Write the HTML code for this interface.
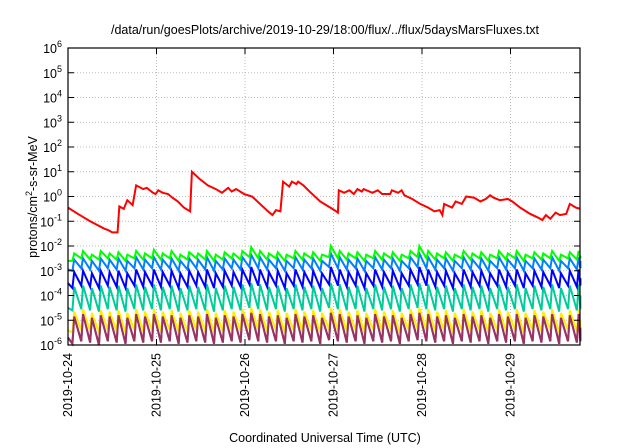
<!DOCTYPE html>
<html><head><meta charset="utf-8"><style>
body{margin:0;background:#fff}
svg{display:block;font-family:"Liberation Sans",sans-serif}
</style></head><body>
<svg id="c" width="640" height="448" viewBox="0 0 640 448">
<text x="325" y="34" font-size="12.5" text-anchor="middle">/data/run/goesPlots/archive/2019-10-29/18:00/flux/../flux/5daysMarsFluxes.txt</text>
<text transform="translate(37,197) rotate(-90)" font-size="12.5" text-anchor="middle">protons/cm<tspan dy="-5" font-size="9">2</tspan><tspan dy="5">-s-sr-MeV</tspan></text>
<text x="325" y="442" font-size="12.5" text-anchor="middle">Coordinated Universal Time (UTC)</text>
<g id="grid"></g><g id="series"></g><g id="axes"></g>
</svg>
<script>
const dayLabels=["2019-10-24","2019-10-25","2019-10-26","2019-10-27","2019-10-28","2019-10-29"];
const decadeExps=[-6,-5,-4,-3,-2,-1,0,1,2,3,4,5,6];
const redT=[0,.11,.25,.41,.45,.50,.56,.58,.63,.67,.73,.77,.85,.89,.96,.99,1.02,1.07,1.13,1.18,1.24,1.31,1.38,1.40,1.49,1.58,1.67,1.74,1.81,1.85,1.90,1.99,2.08,2.17,2.26,2.31,2.35,2.40,2.43,2.50,2.53,2.58,2.60,2.66,2.73,2.85,3.01,3.05,3.06,3.12,3.18,3.23,3.27,3.32,3.34,3.44,3.50,3.55,3.64,3.66,3.73,3.77,3.80,3.89,3.98,4.07,4.14,4.20,4.23,4.25,4.34,4.38,4.45,4.50,4.59,4.66,4.72,4.77,4.81,4.88,4.97,5.02,5.11,5.22,5.31,5.36,5.40,5.45,5.51,5.56,5.63,5.67,5.74,5.79];
const redLog=[-.45,-.7,-1.0,-1.3,-1.35,-1.45,-1.45,-.4,-.5,-.15,-.35,.45,.3,.35,.15,.1,.25,.15,.1,-.05,-.2,-.45,-.6,1.0,.7,.45,.3,.15,.35,.2,.3,.1,0,-.3,-.6,-.75,-.55,-.6,.6,.4,.6,.5,.6,.45,.2,-.2,-.55,-.65,.25,.15,.25,.1,.3,.2,.3,.15,.25,.1,.1,.25,.15,.25,.05,-.1,-.3,-.45,-.6,-.55,-.75,-.3,-.45,-.2,-.3,0,-.05,-.2,-.1,.05,-.05,-.15,-.1,-.2,-.45,-.7,-.85,-.95,-.75,-.9,-.65,-.75,-.7,-.3,-.45,-.5];
const toothT=[0,.05,.15,.25,.35,.45,.55,.65,.75,.85,.95,1.05,1.15,1.25,1.35,1.45,1.55,1.65,1.75,1.85,1.95,2.05,2.15,2.25,2.35,2.45,2.55,2.65,2.75,2.85,2.95,3.05,3.15,3.25,3.35,3.45,3.55,3.65,3.75,3.85,3.95,4.05,4.15,4.25,4.35,4.45,4.55,4.65,4.75,4.85,4.95,5.05,5.15,5.25,5.35,5.45,5.55,5.65,5.75,5.79];
const greenPeak=[-2.6,-2.3,-2.2,-2.35,-2.2,-2.3,-2.25,-2.35,-2.2,-2.3,-2.15,-2.3,-2.2,-2.35,-2.25,-2.3,-2.2,-2.35,-2.25,-2.3,-2.2,-2.05,-2.2,-2.3,-2.25,-2.35,-2.2,-2.3,-2.25,-2.35,-2.0,-2.2,-2.3,-2.25,-2.35,-2.2,-2.3,-2.25,-2.35,-2.2,-2.0,-2.2,-2.3,-2.25,-2.35,-2.2,-2.3,-2.25,-2.35,-2.2,-2.3,-2.2,-2.35,-2.25,-2.3,-2.2,-2.35,-2.25,-2.2,-2.4];
const greenLow=[-2.6,-2.6,-2.5,-2.55,-2.55,-2.5,-2.55,-2.6,-2.5,-2.55,-2.5,-2.55,-2.5,-2.6,-2.55,-2.5,-2.55,-2.6,-2.55,-2.5,-2.55,-2.45,-2.5,-2.55,-2.5,-2.6,-2.5,-2.55,-2.5,-2.6,-2.45,-2.5,-2.55,-2.5,-2.6,-2.5,-2.55,-2.5,-2.6,-2.5,-2.45,-2.5,-2.55,-2.5,-2.6,-2.5,-2.55,-2.5,-2.6,-2.5,-2.55,-2.5,-2.6,-2.5,-2.55,-2.5,-2.6,-2.5,-2.55,-2.5];
const lbluePeak=[-2.95,-2.55,-2.5,-2.6,-2.5,-2.55,-2.5,-2.6,-2.45,-2.55,-2.45,-2.55,-2.5,-2.6,-2.5,-2.55,-2.45,-2.6,-2.5,-2.55,-2.45,-2.35,-2.45,-2.55,-2.5,-2.6,-2.45,-2.55,-2.5,-2.6,-2.3,-2.45,-2.55,-2.5,-2.6,-2.45,-2.55,-2.5,-2.6,-2.45,-2.3,-2.45,-2.55,-2.5,-2.6,-2.45,-2.55,-2.5,-2.6,-2.45,-2.55,-2.45,-2.6,-2.5,-2.55,-2.45,-2.6,-2.5,-2.45,-2.6];
const lblueLow=[-2.95,-3.0,-2.9,-2.95,-3.0,-2.9,-2.95,-3.0,-2.9,-2.95,-2.9,-2.95,-2.9,-3.0,-2.95,-2.9,-2.95,-3.0,-2.95,-2.9,-2.95,-2.85,-2.9,-2.95,-2.9,-3.0,-2.9,-2.95,-2.9,-3.0,-2.85,-2.9,-2.95,-2.9,-3.0,-2.9,-2.95,-2.9,-3.0,-2.9,-2.85,-2.9,-2.95,-2.9,-3.0,-2.9,-2.95,-2.9,-3.0,-2.9,-2.95,-2.9,-3.0,-2.9,-2.95,-2.9,-3.0,-2.9,-2.95,-2.9];
const bluePeak=[-3.5,-3.05,-3.0,-3.1,-3.0,-3.05,-3.0,-3.1,-2.95,-3.05,-2.95,-3.05,-3.0,-3.1,-3.0,-3.05,-2.95,-3.1,-3.0,-3.05,-2.95,-2.85,-2.95,-3.05,-3.0,-3.1,-2.95,-3.05,-3.0,-3.1,-2.85,-2.95,-3.05,-3.0,-3.1,-2.95,-3.05,-3.0,-3.1,-2.95,-2.85,-2.95,-3.05,-3.0,-3.1,-2.95,-3.05,-3.0,-3.1,-2.95,-3.05,-2.95,-3.1,-3.0,-3.05,-2.95,-3.1,-3.0,-2.95,-3.3];
const blueLow=[-3.5,-3.7,-3.6,-3.65,-3.7,-3.6,-3.65,-3.7,-3.6,-3.65,-3.6,-3.65,-3.6,-3.7,-3.65,-3.6,-3.65,-3.7,-3.65,-3.6,-3.65,-3.55,-3.6,-3.65,-3.6,-3.7,-3.6,-3.65,-3.6,-3.7,-3.55,-3.6,-3.65,-3.6,-3.7,-3.6,-3.65,-3.6,-3.7,-3.6,-3.55,-3.6,-3.65,-3.6,-3.7,-3.6,-3.65,-3.6,-3.7,-3.6,-3.65,-3.6,-3.7,-3.6,-3.65,-3.6,-3.7,-3.6,-3.65,-3.6];
const tealPeak=[-4.5,-3.65,-3.6,-3.7,-3.6,-3.65,-3.6,-3.7,-3.55,-3.65,-3.55,-3.65,-3.6,-3.7,-3.6,-3.65,-3.55,-3.7,-3.6,-3.65,-3.55,-3.5,-3.55,-3.65,-3.6,-3.7,-3.55,-3.65,-3.6,-3.7,-3.5,-3.55,-3.65,-3.6,-3.7,-3.55,-3.65,-3.6,-3.7,-3.55,-3.5,-3.55,-3.65,-3.6,-3.7,-3.55,-3.65,-3.6,-3.7,-3.55,-3.65,-3.55,-3.7,-3.6,-3.65,-3.55,-3.7,-3.6,-3.55,-4.0];
const tealLow=[-4.5,-4.6,-4.55,-4.6,-4.65,-4.55,-4.6,-4.65,-4.55,-4.6,-4.55,-4.6,-4.55,-4.65,-4.6,-4.55,-4.6,-4.65,-4.6,-4.55,-4.6,-4.5,-4.55,-4.6,-4.55,-4.65,-4.55,-4.6,-4.55,-4.65,-4.5,-4.55,-4.6,-4.55,-4.65,-4.55,-4.6,-4.55,-4.65,-4.55,-4.5,-4.55,-4.6,-4.55,-4.65,-4.55,-4.6,-4.55,-4.65,-4.55,-4.6,-4.55,-4.65,-4.55,-4.6,-4.55,-4.65,-4.55,-4.6,-4.55];
const yellowPeak=[-5.4,-4.65,-4.55,-4.7,-4.6,-4.65,-4.6,-4.7,-4.55,-4.65,-4.55,-4.65,-4.6,-4.7,-4.6,-4.65,-4.55,-4.7,-4.6,-4.65,-4.55,-4.5,-4.55,-4.65,-4.6,-4.7,-4.55,-4.65,-4.6,-4.7,-4.5,-4.55,-4.65,-4.6,-4.7,-4.55,-4.65,-4.6,-4.7,-4.55,-4.5,-4.55,-4.65,-4.6,-4.7,-4.55,-4.65,-4.6,-4.7,-4.55,-4.65,-4.55,-4.7,-4.6,-4.65,-4.55,-4.7,-4.6,-4.55,-5.0];
const yellowLow=[-5.4,-5.5,-5.4,-5.45,-5.5,-5.4,-5.45,-5.5,-5.4,-5.45,-5.4,-5.45,-5.4,-5.5,-5.45,-5.4,-5.45,-5.5,-5.45,-5.4,-5.45,-5.35,-5.4,-5.45,-5.4,-5.5,-5.4,-5.45,-5.4,-5.5,-5.35,-5.4,-5.45,-5.4,-5.5,-5.4,-5.45,-5.4,-5.5,-5.4,-5.35,-5.4,-5.45,-5.4,-5.5,-5.4,-5.45,-5.4,-5.5,-5.4,-5.45,-5.4,-5.5,-5.4,-5.45,-5.4,-5.5,-5.4,-5.45,-5.4];
const purplePeak=[-5.7,-4.85,-4.75,-4.9,-4.8,-4.85,-4.8,-4.9,-4.75,-4.85,-4.75,-4.85,-4.8,-4.9,-4.8,-4.85,-4.75,-4.9,-4.8,-4.85,-4.75,-4.7,-4.75,-4.85,-4.8,-4.9,-4.75,-4.85,-4.8,-4.9,-4.7,-4.75,-4.85,-4.8,-4.9,-4.75,-4.85,-4.8,-4.9,-4.75,-4.7,-4.75,-4.85,-4.8,-4.9,-4.75,-4.85,-4.8,-4.9,-4.75,-4.85,-4.75,-4.9,-4.8,-4.85,-4.75,-4.9,-4.8,-4.75,-5.3];
const purpleLow=[-5.7,-5.95,-5.85,-5.9,-6.0,-5.85,-5.9,-5.95,-5.85,-5.9,-5.85,-5.9,-5.85,-5.95,-5.9,-5.85,-5.9,-5.95,-5.9,-5.85,-5.9,-5.8,-5.85,-5.9,-5.85,-5.95,-5.85,-5.9,-5.85,-5.95,-5.8,-5.85,-5.9,-5.85,-5.95,-5.85,-5.9,-5.85,-5.95,-5.85,-5.8,-5.85,-5.9,-5.85,-5.95,-5.85,-5.9,-5.85,-5.95,-5.85,-5.9,-5.85,-5.95,-5.85,-5.9,-5.85,-5.95,-5.85,-5.9,-5.85];

const L=68,R=580,T=48,B=345,dayW=88.5,riseD=0.02;
const xS=d=>L+d*dayW, yS=e=>B-(e+6)*(B-T)/12;
const NS="http://www.w3.org/2000/svg";
function mk(tag,attrs,parent){const e=document.createElementNS(NS,tag);for(const k in attrs)e.setAttribute(k,attrs[k]);parent.appendChild(e);return e;}
const grid=document.getElementById('grid'),ser=document.getElementById('series'),ax=document.getElementById('axes');
decadeExps.forEach(e=>{
  if(e>-6&&e<6){const g=mk('line',{x1:L,x2:R,y1:yS(e),y2:yS(e),stroke:'#aaa','stroke-width':.8,'stroke-dasharray':'1,2'},grid);
  
  }
  const tk=mk('path',{d:`M${L},${yS(e)}h6M${R},${yS(e)}h-6`,stroke:'#000'},ax);
  
  
  const t=mk('text',{x:L-6,y:yS(e)+5,'font-size':12.5,'text-anchor':'end'},ax);
  
  
  t.innerHTML='10<tspan dy="-6" font-size="9">'+e+'</tspan>';
});
dayLabels.forEach((lab,i)=>{
  const x=xS(i);
  if(i>0){const g=mk('line',{x1:x,x2:x,y1:T,y2:B,stroke:'#aaa','stroke-width':.8,'stroke-dasharray':'1,2'},grid);
  
  }
  const tk=mk('path',{d:`M${x},${B}v-6M${x},${T}v6`,stroke:'#000'},ax);
  
  
  const t=mk('text',{transform:`translate(${x+4},${B+8}) rotate(-90)`,'font-size':12.5,'text-anchor':'end'},ax);
  
  
  t.textContent=lab;
});
const fr=mk('rect',{x:L,y:T,width:R-L,height:B-T,fill:'none',stroke:'#000','stroke-width':1.2},ax);


function saw(peak,low,color,name){
  let d='';
  for(let i=0;i<toothT.length;i++){
    const t0=toothT[i], t1=(i>0&&i<toothT.length-1)?t0+riseD:t0;
    d+=(i?'L':'M')+xS(t0)+','+yS(low[i])+'L'+xS(t1)+','+yS(peak[i]);
  }
  const p=mk('path',{d,fill:'none',stroke:color,'stroke-width':2,'stroke-linejoin':'miter'},ser);
  
  
}
saw(purplePeak,purpleLow,'#993366','series-purple');
saw(yellowPeak,yellowLow,'#ffee00','series-yellow');
saw(purplePeak,purpleLow,'#993366','series-purple-overlay');
saw(tealPeak,tealLow,'#00cc99','series-teal');
saw(bluePeak,blueLow,'#0000ff','series-blue');
saw(lbluePeak,lblueLow,'#0080ff','series-light-blue');
saw(greenPeak,greenLow,'#00ff00','series-green');
let d='';
redT.forEach((t,i)=>{d+=(i?'L':'M')+xS(t)+','+yS(redLog[i]);});
const rp=mk('path',{d,fill:'none',stroke:'#ff0000','stroke-width':2},ser);


</script>
</body></html>
